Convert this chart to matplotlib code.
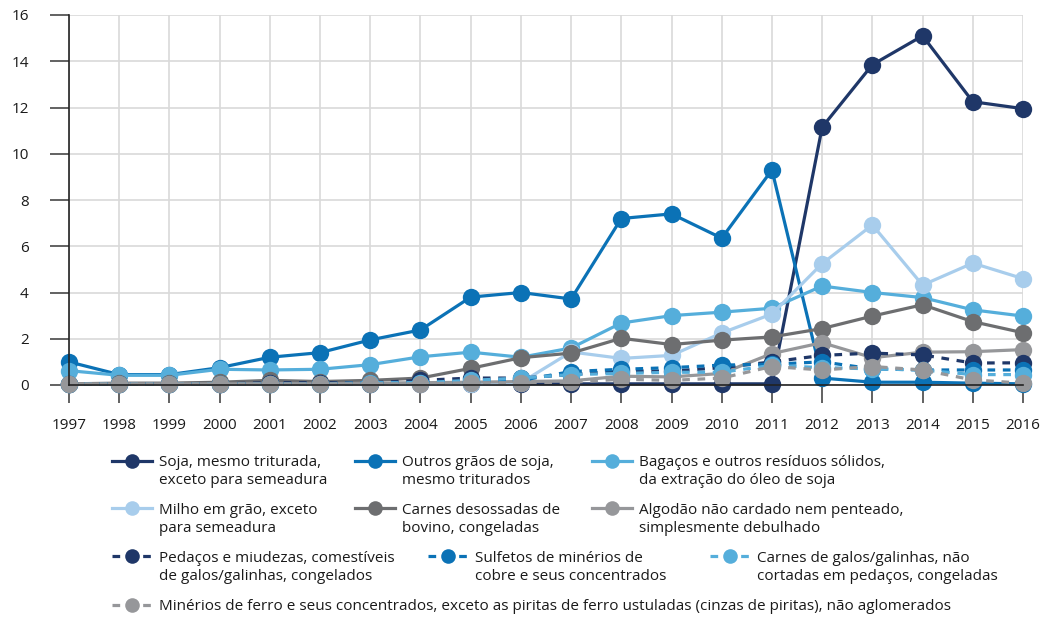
import numpy as np
import matplotlib.pyplot as plt
from matplotlib.lines import Line2D

plt.rcParams['font.family'] = ['Open Sans', 'DejaVu Sans']

years = list(range(1997, 2017))

soja = [0.05, 0.05, 0.05, 0.05, 0.05, 0.05, 0.05, 0.05, 0.05, 0.05,
        0.05, 0.05, 0.05, 0.05, 0.05, 11.15, 13.85, 15.1, 12.25, 11.95]
outros_graos = [1.0, 0.45, 0.45, 0.75, 1.2, 1.4, 1.95, 2.38, 3.8, 4.0,
                3.72, 7.2, 7.4, 6.35, 9.3, 0.3, 0.12, 0.12, 0.08, 0.05]
bagacos = [0.62, 0.42, 0.42, 0.68, 0.65, 0.68, 0.88, 1.22, 1.42, 1.2,
           1.6, 2.68, 3.0, 3.15, 3.32, 4.28, 4.0, 3.78, 3.25, 2.98]
milho = [0.05, 0.05, 0.05, 0.05, 0.05, 0.05, 0.05, 0.05, 0.05, 0.1,
         1.43, 1.15, 1.28, 2.25, 3.07, 5.25, 6.92, 4.32, 5.27, 4.6]
carnes_bovino = [0.05, 0.08, 0.08, 0.12, 0.2, 0.15, 0.2, 0.3, 0.72, 1.18,
                 1.38, 2.02, 1.75, 1.94, 2.08, 2.44, 2.98, 3.47, 2.74, 2.26]
algodao = [0.05, 0.05, 0.05, 0.05, 0.05, 0.05, 0.08, 0.1, 0.12, 0.15,
           0.18, 0.38, 0.35, 0.5, 1.36, 1.83, 1.18, 1.42, 1.44, 1.53]
pedacos = [0.05, 0.05, 0.05, 0.05, 0.1, 0.1, 0.1, 0.2, 0.3, 0.3,
           0.45, 0.6, 0.6, 0.75, 1.0, 1.28, 1.38, 1.3, 0.95, 0.96]
sulfetos = [0.05, 0.05, 0.05, 0.05, 0.05, 0.05, 0.05, 0.1, 0.15, 0.2,
            0.58, 0.68, 0.75, 0.86, 0.9, 1.0, 0.7, 0.65, 0.65, 0.65]
galos = [0.05, 0.05, 0.05, 0.05, 0.05, 0.05, 0.1, 0.1, 0.2, 0.3,
         0.45, 0.5, 0.55, 0.55, 0.85, 0.75, 0.7, 0.65, 0.45, 0.45]
minerios = [0.05, 0.05, 0.05, 0.05, 0.05, 0.05, 0.05, 0.05, 0.1, 0.1,
            0.12, 0.25, 0.2, 0.3, 0.8, 0.65, 0.8, 0.65, 0.22, 0.08]

series = [
    (soja, '#1f3768', '-', 'Soja, mesmo triturada,', 'exceto para semeadura'),
    (outros_graos, '#0b72b6', '-', 'Outros grãos de soja,', 'mesmo triturados'),
    (bagacos, '#55aedb', '-', 'Bagaços e outros resíduos sólidos,', 'da extração do óleo de soja'),
    (milho, '#a8cdec', '-', 'Milho em grão, exceto', 'para semeadura'),
    (carnes_bovino, '#6d6e70', '-', 'Carnes desossadas de', 'bovino, congeladas'),
    (algodao, '#96979a', '-', 'Algodão não cardado nem penteado,', 'simplesmente debulhado'),
    (pedacos, '#1f3768', '--', 'Pedaços e miudezas, comestíveis', 'de galos/galinhas, congelados'),
    (sulfetos, '#0b72b6', '--', 'Sulfetos de minérios de', 'cobre e seus concentrados'),
    (galos, '#55aedb', '--', 'Carnes de galos/galinhas, não', 'cortadas em pedaços, congeladas'),
    (minerios, '#96979a', '--', 'Minérios de ferro e seus concentrados, exceto as piritas de ferro '
     'ustuladas (cinzas de piritas), não aglomerados', ''),
]

W, H = 1046, 618
fig = plt.figure(figsize=(W / 100, H / 100), dpi=100)
ax = fig.add_axes([69 / W, 1 - 385 / H, (1023 - 69) / W, (385 - 15) / H])

for vals, col, ls, l1, l2 in series:
    line, = ax.plot(years, vals, color=col, lw=2.3, marker='o', markersize=12.5,
                    markeredgewidth=0, clip_on=False)
    if ls == '--':
        line.set_dashes([2.4, 2.4])

ax.set_xlim(1997, 2016)
ax.set_ylim(0, 16)
ax.set_xticks(years)
ax.set_yticks(range(0, 17, 2))
ax.grid(True, color='#d9d9d9', lw=1.2)
ax.set_axisbelow(True)
for s in ['top', 'right']:
    ax.spines[s].set_visible(False)
ax.spines['left'].set_color('#222222')
ax.spines['bottom'].set_color('#222222')
ax.spines['left'].set_linewidth(1.2)
ax.spines['bottom'].set_linewidth(1.2)
ax.tick_params(axis='y', length=14, width=1.3, color='#555555', pad=15,
               labelsize=11, labelcolor='#1a1a1a')
ax.tick_params(axis='x', length=13, width=1.3, color='#555555', pad=11,
               labelsize=11, labelcolor='#1a1a1a')

# legend: one small legend per entry, laid out row by row
legend_pos = [(112, 463), (355, 463), (592, 463),
              (112, 510), (355, 510), (592, 510),
              (112, 558), (428, 558), (710, 558),
              (112, 607)]

legs = []
for (vals, col, ls, l1, l2), (hx, hy) in zip(series, legend_pos):
    h = Line2D([], [], color=col, lw=2.3, marker='o', markersize=10.5,
               markeredgewidth=0)
    if ls == '--':
        h.set_dashes([2.4, 2.4])
    leg = fig.legend(handles=[h], labels=[l1], loc='center left',
                     bbox_to_anchor=(hx / W, 1 - hy / H), frameon=False,
                     borderpad=0, borderaxespad=0, handlelength=2.6,
                     handletextpad=0.45, fontsize=11)
    for t in leg.get_texts():
        t.set_color('#1a1a1a')
    legs.append((leg, l2, hy))

fig.canvas.draw()
for leg, l2, hy in legs:
    if l2:
        x0 = leg.get_texts()[0].get_window_extent().x0
        fig.text(x0 / W, 1 - (hy + 18) / H, l2, va='center', ha='left',
                 fontsize=11, color='#1a1a1a')

fig.savefig('out.png', dpi=100)
